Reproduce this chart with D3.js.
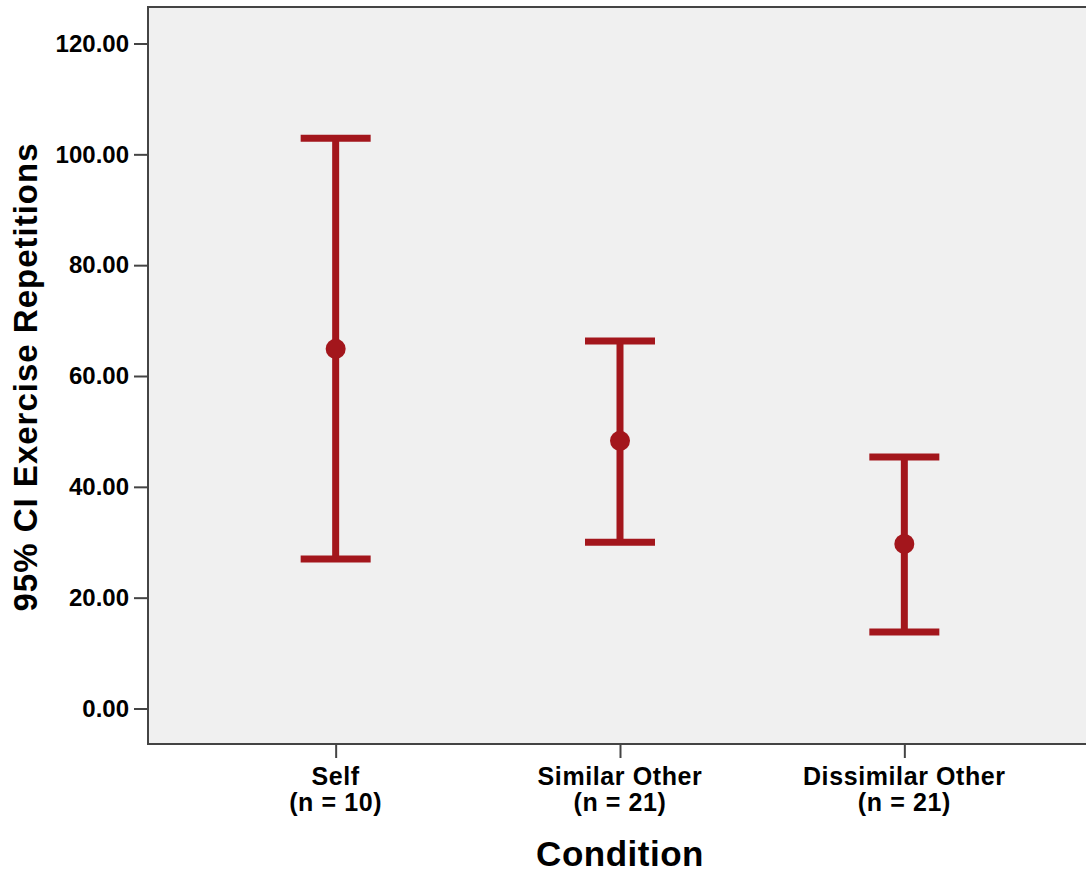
<!DOCTYPE html>
<html><head><meta charset="utf-8">
<script src="https://cdn.jsdelivr.net/npm/d3@7"></script>
<style>body{margin:0;background:#fff;} text{font-family:"Liberation Sans",Arial,sans-serif;font-weight:bold;fill:#000;}</style>
</head><body>
<svg id="c" width="1086" height="872"></svg>
<script>
const categories = ["Self", "Similar Other", "Dissimilar Other"];
const nLabels = ["(n = 10)", "(n = 21)", "(n = 21)"];
const means = [64.9, 48.3, 29.7];
const lowers = [27.0, 30.0, 13.8];
const uppers = [102.9, 66.3, 45.4];
const yTicks = [0, 20, 40, 60, 80, 100, 120];

const svg = d3.select("#c");
const L = 148, T = 7, R = 1092, B = 744;
const x = d3.scalePoint().domain(categories).range([L, R]).padding(0.66);
const y = d3.scaleLinear().domain([0, 120]).range([708.5, 43.5]);
const col = "#a3161c";

svg.append("rect").attr("x", L).attr("y", T).attr("width", R - L).attr("height", B - T)
  .attr("fill", "#f0f0f0").attr("stroke", "#444").attr("stroke-width", 2);

const ya = svg.append("g").attr("transform", `translate(${L},0)`)
  .call(d3.axisLeft(y).tickValues(yTicks).tickFormat(d3.format(".2f")).tickSize(14).tickPadding(5));
ya.select(".domain").remove();
ya.selectAll("line").attr("stroke", "#444").attr("stroke-width", 2);
ya.selectAll("text").style("font-size", "24px").style("font-family", "Liberation Sans, Arial, sans-serif").style("font-weight", "bold").attr("fill", "#000");

const xa = svg.append("g").attr("transform", `translate(0,${B})`)
  .call(d3.axisBottom(x).tickSize(14).tickFormat(""));
xa.select(".domain").remove();
xa.selectAll("line").attr("stroke", "#444").attr("stroke-width", 2);

categories.forEach((c, i) => {
  const t = svg.append("text").attr("x", x(c)).attr("text-anchor", "middle")
    .style("font-size", "25px").style("letter-spacing", "0.6px");
  t.append("tspan").attr("x", x(c)).attr("y", 785).text(c);
  t.append("tspan").attr("x", x(c)).attr("y", 811).text(nLabels[i]);
});

const g = svg.append("g");
categories.forEach((c, i) => {
  const cx = x(c);
  g.append("line").attr("x1", cx).attr("x2", cx).attr("y1", y(lowers[i])).attr("y2", y(uppers[i]))
    .attr("stroke", col).attr("stroke-width", 7);
  [lowers[i], uppers[i]].forEach(v => {
    g.append("line").attr("x1", cx - 35).attr("x2", cx + 35).attr("y1", y(v)).attr("y2", y(v))
      .attr("stroke", col).attr("stroke-width", 7);
  });
  g.append("circle").attr("cx", cx).attr("cy", y(means[i])).attr("r", 10).attr("fill", col);
});

svg.append("text").attr("x", x(categories[1])).attr("y", 866).attr("text-anchor", "middle")
  .style("font-size", "35px").style("letter-spacing", "0.5px").text("Condition");
svg.append("text").attr("transform", `translate(37,${377}) rotate(-90)`).attr("text-anchor", "middle")
  .style("font-size", "33px").style("letter-spacing", "1px").text("95% CI Exercise Repetitions");
</script>
</body></html>
